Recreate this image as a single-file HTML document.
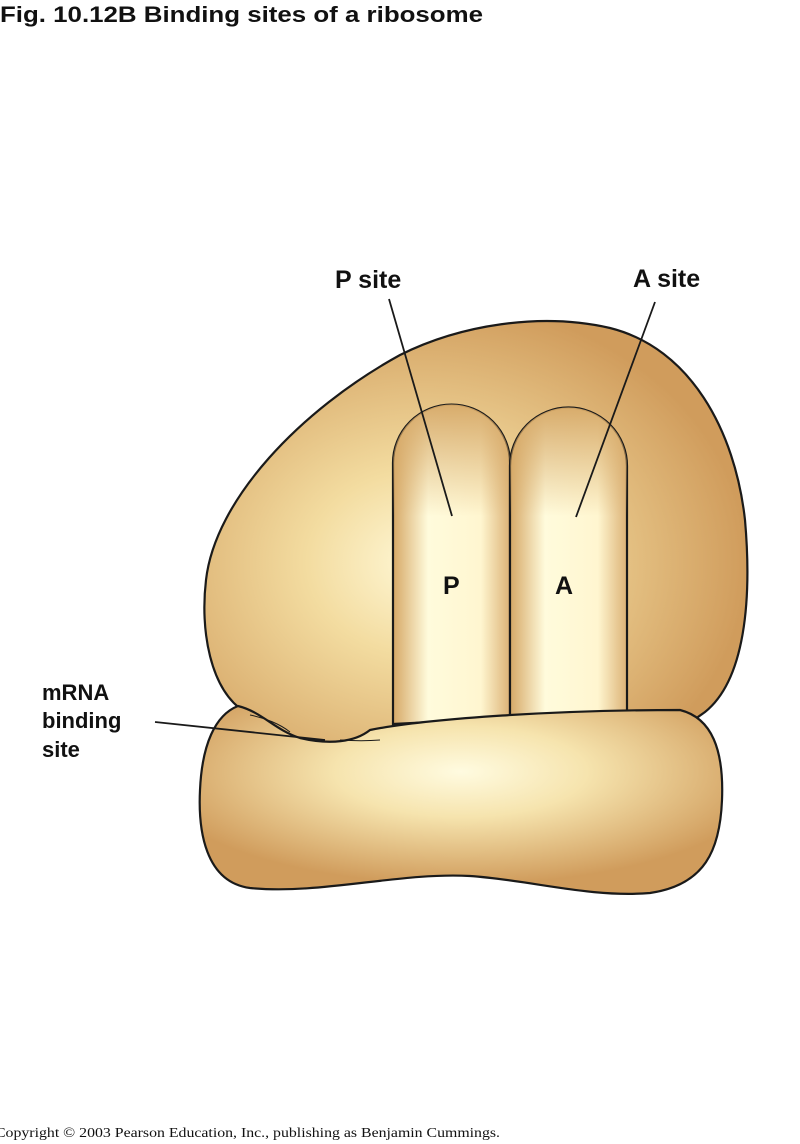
<!DOCTYPE html>
<html><head><meta charset="utf-8"><style>
html,body{margin:0;padding:0;background:#fff;width:800px;height:1144px;overflow:hidden}
svg{display:block}
</style></head><body>
<svg width="800" height="1144" viewBox="0 0 800 1144" xmlns="http://www.w3.org/2000/svg">
<defs>
<radialGradient id="gL" cx="0.4" cy="0.55" r="0.6">
<stop offset="0" stop-color="#fff8d6"/><stop offset="0.35" stop-color="#f3dca0"/><stop offset="1" stop-color="#d09c5c"/>
</radialGradient>
<radialGradient id="gS" cx="0.5" cy="0.35" r="0.6">
<stop offset="0" stop-color="#fffbe0"/><stop offset="0.4" stop-color="#f6e4ae"/><stop offset="1" stop-color="#d09c5c"/>
</radialGradient>
<linearGradient id="gT" x1="0" y1="0" x2="1" y2="0">
<stop offset="0" stop-color="#d6a866"/><stop offset="0.3" stop-color="#fffbdc"/><stop offset="0.75" stop-color="#fff6d0"/><stop offset="1" stop-color="#dcb276"/>
</linearGradient>
<linearGradient id="gTv" x1="0" y1="0" x2="0" y2="1">
<stop offset="0" stop-color="#d6a866" stop-opacity="0.95"/><stop offset="0.35" stop-color="#d6a866" stop-opacity="0"/><stop offset="1" stop-color="#d6a866" stop-opacity="0"/>
</linearGradient>
</defs>
<text x="0" y="22" font-family="Liberation Sans, sans-serif" font-weight="bold" font-size="22" fill="#111" textLength="483" lengthAdjust="spacingAndGlyphs">Fig. 10.12B  Binding sites of a ribosome</text>

<path d="M250,760 L245,712 C210,690 200,630 206,580 C215,500 300,410 400,355 C460,325 540,312 610,328 C690,348 735,430 745,520 C752,600 745,680 705,712 C700,716 690,720 680,740 Z" fill="url(#gL)" stroke="#1a1a1a" stroke-width="2.2"/>

<path d="M393,724 L393,463 A58,58 0 0 1 510,463 L510,718 Z" fill="url(#gT)" stroke="#1a1a1a" stroke-width="2.2"/>
<path d="M393,724 L393,463 A58,58 0 0 1 510,463 L510,718 Z" fill="url(#gTv)"/>
<path d="M510,718 L510,466 A58,58 0 0 1 627,466 L627,714 Z" fill="url(#gT)" stroke="#1a1a1a" stroke-width="2.2"/>
<path d="M510,718 L510,466 A58,58 0 0 1 627,466 L627,714 Z" fill="url(#gTv)"/>

<path d="M238,706 C262,712 275,730 300,738 C330,745 355,742 370,730 C430,718 560,710 680,710 C712,718 724,750 722,800 C720,850 705,885 650,893 C590,898 530,880 470,876 C400,872 320,895 250,888 C205,882 198,830 200,790 C202,745 215,715 238,706 Z" fill="url(#gS)" stroke="#1a1a1a" stroke-width="2.2"/>
<path d="M250,715 C265,718 280,724 290,732" fill="none" stroke="#1a1a1a" stroke-width="1"/>
<path d="M340,740 C355,741 368,741 380,740" fill="none" stroke="#1a1a1a" stroke-width="1"/>

<g font-family="Liberation Sans, sans-serif" font-weight="bold" fill="#111">
<text x="335" y="288" font-size="25">P site</text>
<text x="633" y="287" font-size="25">A site</text>
<text x="443" y="594" font-size="25">P</text>
<text x="555" y="594" font-size="25">A</text>
<text x="42" y="700" font-size="22">mRNA</text>
<text x="42" y="728" font-size="22">binding</text>
<text x="42" y="757" font-size="22">site</text>
</g>
<line x1="389" y1="299" x2="452" y2="516" stroke="#1a1a1a" stroke-width="1.8"/>
<line x1="655" y1="302" x2="576" y2="517" stroke="#1a1a1a" stroke-width="1.8"/>
<line x1="155" y1="722" x2="325" y2="740" stroke="#1a1a1a" stroke-width="1.8"/>

<text x="-5" y="1137" font-family="Liberation Serif, serif" font-size="14" fill="#111" textLength="505" lengthAdjust="spacingAndGlyphs">Copyright © 2003 Pearson Education, Inc., publishing as Benjamin Cummings.</text>
</svg>
</body></html>
